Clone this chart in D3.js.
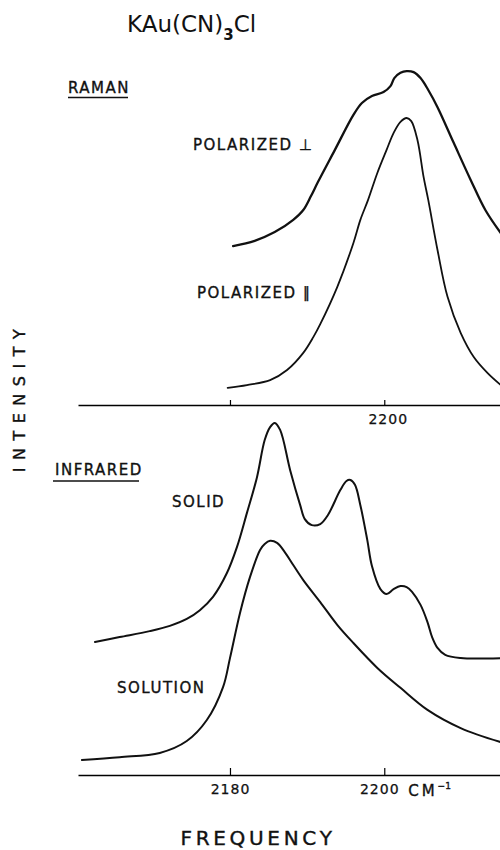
<!DOCTYPE html>
<html>
<head>
<meta charset="utf-8">
<script src="https://cdn.jsdelivr.net/npm/d3@7"></script>
<style>
  body { margin: 0; background: #fff; }
  svg { display: block; }
  text { font-family: "DejaVu Sans", sans-serif; fill: #111; }
  .lbl { font-size: 15px; letter-spacing: 1.5px; stroke: #111; stroke-width: 0.35px; }
  .tick text { font-size: 14px; font-family: "DejaVu Sans", sans-serif; letter-spacing: 1px; fill: #111; stroke: #111; stroke-width: 0.25px; }
  .curve { fill: none; stroke: #111; stroke-linejoin: round; stroke-linecap: round; }
</style>
</head>
<body>
<div class="spectra"></div>
<script>
// --- data (frequency in cm-1, intensity in arbitrary units) ---
// Raman, polarized perpendicular
var perpFreq = [2180.4, 2183.2, 2185.8, 2188.2, 2189.5, 2190.5, 2191.4, 2193.6, 2196.0, 2197.1, 2198.4, 2199.9,
                2200.8, 2201.3, 2202.1, 2202.9, 2203.8, 2204.7, 2205.7, 2206.9, 2209.0, 2211.2, 2213.1, 2215.1];
var perpInt  = [45.4, 46.9, 49.4, 52.9, 55.7, 59.7, 63.7, 72.9, 82.9, 86.3, 88.3, 89.4,
                91.1, 93.4, 94.9, 95.4, 95.1, 93.4, 90.0, 85.1, 74.9, 64.3, 55.7, 49.1];

// Raman, polarized parallel
var parFreq = [2179.7, 2182.2, 2185.2, 2187.4, 2189.5, 2190.8, 2191.7, 2193.9, 2196.0, 2196.9, 2197.9, 2199.1,
               2200.3, 2201.2, 2202.1, 2202.9, 2203.5, 2204.3, 2205.1, 2205.7, 2206.9, 2208.2, 2209.9, 2211.6,
               2213.4, 2215.1];
var parInt  = [4.9, 5.7, 7.1, 10.0, 14.9, 19.4, 23.1, 33.7, 46.3, 52.9, 58.6, 66.3,
               72.9, 77.7, 80.9, 82.0, 81.1, 75.7, 65.1, 58.6, 44.3, 30.9, 20.6, 13.7,
               9.1, 5.7];

// Infrared, solid
var solidFreq = [2162.5, 2165.7, 2169.6, 2172.2, 2174.4, 2176.1, 2177.8, 2179.6, 2180.9, 2182.2, 2183.5, 2184.5,
                 2185.2, 2185.8, 2186.5, 2187.8, 2189.1, 2189.7, 2190.6, 2191.7, 2192.7, 2194.3, 2195.1, 2195.6,
                 2196.2, 2196.9, 2197.8, 2198.4, 2199.5, 2200.3, 2201.2, 2202.1, 2202.9, 2203.6, 2204.7, 2205.6,
                 2206.2, 2206.9, 2207.9, 2209.9, 2215.1];
var solidInt  = [38.0, 39.4, 41.1, 42.6, 44.6, 47.1, 50.9, 57.7, 65.1, 74.9, 85.1, 95.7,
                 99.4, 100.6, 98.6, 87.1, 77.1, 73.1, 71.4, 71.7, 74.3, 81.4, 84.0, 84.3,
                 82.9, 77.1, 67.1, 59.7, 53.1, 51.7, 53.1, 54.0, 53.7, 52.3, 48.6, 43.7,
                 39.4, 36.3, 34.3, 33.4, 33.4];

// Infrared, solution
var solnFreq = [2160.8, 2165.7, 2170.9, 2174.4, 2177.0, 2179.1, 2180.0, 2181.3, 2182.6, 2183.9, 2184.5, 2185.2,
                2186.1, 2187.1, 2188.2, 2189.5, 2191.7, 2193.9, 2196.0, 2199.1, 2202.1, 2205.6, 2209.9, 2215.1];
var solnInt  = [4.3, 5.1, 6.3, 9.7, 15.7, 25.1, 33.4, 46.3, 56.6, 64.3, 66.0, 66.9,
                66.3, 63.7, 60.0, 55.7, 49.4, 42.9, 37.7, 30.6, 24.9, 18.6, 13.4, 9.4];

var ramanTicks = [2180, 2200];
var ramanTickLabels = ["", "2200"];
var irTicks = [2180, 2200];
var irTickLabels = ["2180", "2200"];

function zip(fs, is) { return fs.map(function(f, i) { return {f: f, v: is[i]}; }); }

// --- layout ---
var W = 500, H = 850;
var svg = d3.select(".spectra").append("svg").attr("width", W).attr("height", H);

var x = d3.scaleLinear().domain([2160.3, 2215]).range([78, 500]);
var yRaman = d3.scaleLinear().domain([0, 100]).range([405, 55]);
var yIR = d3.scaleLinear().domain([0, 100]).range([775, 425]);

function lineFor(y) {
  return d3.line().x(function(d) { return x(d.f); }).y(function(d) { return y(d.v); })
           .curve(d3.curveCatmullRom.alpha(0.5));
}

// --- axes (ticks point up, labels sit below) ---
var axR = svg.append("g").attr("transform", "translate(0,405)")
  .call(d3.axisBottom(x).tickValues(ramanTicks).tickSizeInner(-5).tickSizeOuter(0).tickPadding(9)
         .tickFormat(function(d, i) { return ramanTickLabels[i]; }));
axR.select(".domain").attr("stroke-width", 1.6);
axR.selectAll(".tick line").attr("stroke-width", 1.2);
axR.selectAll(".tick text").attr("dx", 3.5);

var axI = svg.append("g").attr("transform", "translate(0,775)")
  .call(d3.axisBottom(x).tickValues(irTicks).tickSizeInner(-7).tickSizeOuter(0).tickPadding(9)
         .tickFormat(function(d, i) { return irTickLabels[i]; }));
axI.select(".domain").attr("stroke-width", 1.6);
axI.selectAll(".tick line").attr("stroke-width", 1.2);
axI.selectAll(".tick text").attr("dx", function(d, i) { return i === 1 ? -5 : 0; });

var cm = svg.append("text").attr("class", "lbl")
  .attr("x", x(2203.1)).attr("y", 796)
  .style("font-size", "15px").style("letter-spacing", "3px")
  .text("CM");
cm.append("tspan").attr("dy", -7).style("font-size", "9px").style("letter-spacing", "0px").text("−1");

// --- curves ---
svg.append("path").datum(zip(perpFreq, perpInt)).attr("class", "curve")
  .attr("stroke-width", 2.3).attr("d", lineFor(yRaman));
svg.append("path").datum(zip(parFreq, parInt)).attr("class", "curve")
  .attr("stroke-width", 1.8).attr("d", lineFor(yRaman));
svg.append("path").datum(zip(solidFreq, solidInt)).attr("class", "curve")
  .attr("stroke-width", 2).attr("d", lineFor(yIR));
svg.append("path").datum(zip(solnFreq, solnInt)).attr("class", "curve")
  .attr("stroke-width", 2).attr("d", lineFor(yIR));

// --- labels ---
var title = svg.append("text").attr("x", 127).attr("y", 32)
  .style("font-size", "23px");
title.append("tspan").text("KAu(CN)");
title.append("tspan").attr("dy", 8).style("font-size", "15px").style("font-weight", "bold").text("3");
title.append("tspan").attr("dy", -8).text("Cl");

svg.append("text").attr("class", "lbl").attr("x", 68).attr("y", 93).text("RAMAN");
svg.append("line").attr("x1", 68).attr("x2", 128).attr("y1", 97.5).attr("y2", 97.5)
  .attr("stroke", "#111").attr("stroke-width", 1.3);

svg.append("text").attr("class", "lbl").attr("x", 193).attr("y", 150).text("POLARIZED \u22A5");
svg.append("text").attr("class", "lbl").attr("x", 197).attr("y", 298).text("POLARIZED \u2225");

svg.append("text").attr("class", "lbl").attr("x", 55).attr("y", 475).text("INFRARED");
svg.append("line").attr("x1", 53).attr("x2", 139).attr("y1", 481).attr("y2", 481)
  .attr("stroke", "#111").attr("stroke-width", 1.3);

svg.append("text").attr("class", "lbl").attr("x", 172).attr("y", 507).text("SOLID");
svg.append("text").attr("class", "lbl").attr("x", 117).attr("y", 693).text("SOLUTION");

svg.append("text")
  .attr("transform", "translate(25,397) rotate(-90)")
  .attr("text-anchor", "middle")
  .style("font-size", "16px").style("letter-spacing", "7.5px")
  .style("stroke", "#111").style("stroke-width", "0.4px")
  .text("INTENSITY");

svg.append("text")
  .attr("x", 258).attr("y", 845)
  .attr("text-anchor", "middle")
  .style("font-size", "20px").style("letter-spacing", "3.7px")
  .style("stroke", "#111").style("stroke-width", "0.4px")
  .text("FREQUENCY");
</script>
</body>
</html>
